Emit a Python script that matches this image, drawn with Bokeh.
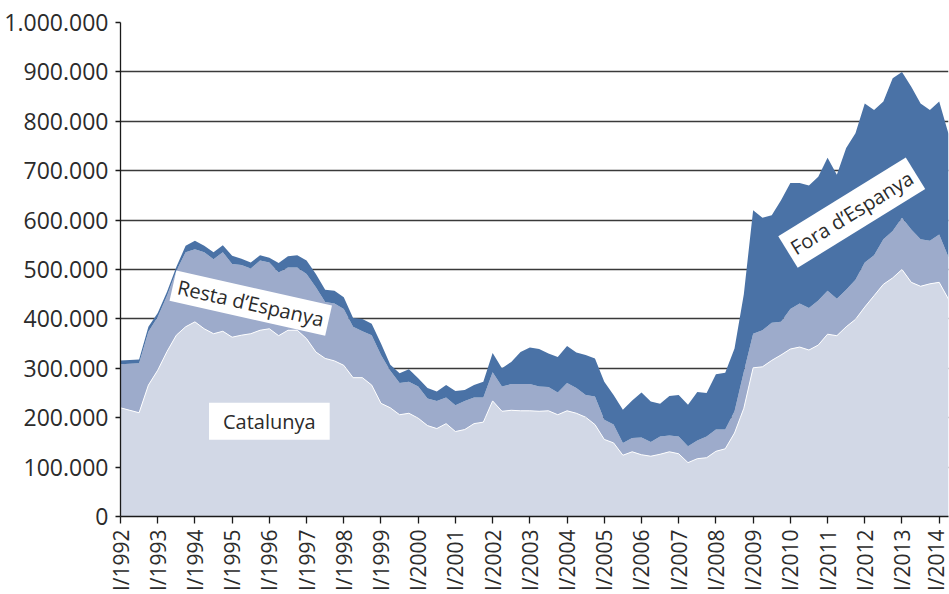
import math
from bokeh.plotting import figure
from bokeh.models import Range1d, FixedTicker, Label
from bokeh.models import ColumnDataSource
from bokeh.embed import file_html
from bokeh.resources import INLINE

# Quarterly series, I/1992 .. II/2014 (thousands of people)
catalunya = [220, 215, 210, 266, 296, 334, 367, 384, 394, 380,
             370, 375, 363, 367, 370, 377, 380, 366, 377, 377,
             360, 333, 320, 315, 306, 281, 281, 266, 229, 220,
             206, 209, 199, 184, 178, 188, 172, 176, 188, 191,
             234, 213, 215, 214, 214, 213, 214, 206, 214, 209,
             201, 186, 156, 149, 124, 131, 125, 122, 126, 131,
             127, 109, 117, 119, 132, 137, 169, 219, 301, 303,
             316, 327, 339, 343, 337, 347, 369, 366, 384, 399,
             424, 447, 470, 483, 500, 474, 466, 471, 474, 440]
resta = [88, 94, 100, 108, 108, 113, 130, 151, 147, 155,
         151, 160, 148, 142, 132, 141, 134, 128, 127, 127,
         131, 131, 114, 116, 114, 103, 94, 101, 98, 75,
         64, 64, 64, 55, 56, 53, 53, 58, 53, 50,
         58, 50, 53, 54, 54, 50, 48, 45, 56, 51,
         45, 57, 40, 37, 25, 28, 35, 29, 36, 33,
         35, 33, 37, 43, 44, 39, 44, 74, 69, 74,
         76, 67, 81, 88, 85, 90, 88, 75, 75, 80,
         90, 82, 91, 95, 105, 107, 95, 87, 97, 85]
fora = [8, 8, 8, 10, 8, 8, 8, 13, 17, 13,
        14, 14, 17, 13, 12, 11, 10, 19, 23, 25,
        27, 27, 25, 26, 24, 18, 25, 23, 23, 12,
        20, 25, 17, 21, 19, 25, 29, 22, 25, 32,
        39, 37, 45, 65, 74, 76, 68, 72, 75, 72,
        81, 77, 77, 60, 67, 76, 91, 82, 66, 80,
        84, 84, 98, 88, 112, 115, 127, 157, 250, 228,
        218, 246, 255, 244, 248, 251, 269, 251, 287, 297,
        322, 294, 279, 309, 295, 289, 275, 265, 269, 250]

years = list(range(1992, 2015))
year_labels = ["I/%d" % y for y in years]
y_ticks = [0, 100000, 200000, 300000, 400000, 500000, 600000, 700000, 800000, 900000, 1000000]
y_tick_labels = ["0", "100.000", "200.000", "300.000", "400.000", "500.000",
                 "600.000", "700.000", "800.000", "900.000", "1.000.000"]

n = len(catalunya)
x = list(range(n))
src = ColumnDataSource(dict(
    x=x,
    catalunya=[v * 1000 for v in catalunya],
    resta=[v * 1000 for v in resta],
    fora=[v * 1000 for v in fora],
))

FONT = "Open Sans"
TXT = "#2b2b2b"

p = figure(width=949, height=594, output_backend="svg", toolbar_location=None,
           x_range=Range1d(0, n - 1), y_range=Range1d(0, 1000000),
           min_border_top=22, min_border_right=1, min_border_left=120,
           min_border_bottom=70)
p.outline_line_color = None
p.background_fill_color = "white"

p.varea_stack(stackers=["catalunya", "resta", "fora"], x="x",
              color=["#D2D8E6", "#9DABCB", "#4A72A6"], source=src)
p.line(x="x", y="catalunya", source=src, line_color="white", line_width=1)

# grid
p.xgrid.visible = False
p.ygrid.grid_line_color = "#3a3a3a"
p.ygrid.grid_line_width = 1.3
p.ygrid.ticker = FixedTicker(ticks=y_ticks)

# y axis
p.yaxis.ticker = FixedTicker(ticks=y_ticks)
p.yaxis.major_label_overrides = {t: l for t, l in zip(y_ticks, y_tick_labels)}
p.yaxis.minor_tick_line_color = None
p.yaxis.major_tick_in = 0
p.yaxis.major_tick_out = 5
p.yaxis.major_label_standoff = 7
p.yaxis.axis_line_color = "#1a1a1a"
p.yaxis.axis_line_width = 1.3
p.yaxis.major_tick_line_color = "#1a1a1a"
p.yaxis.major_tick_line_width = 1.3
p.yaxis.major_label_text_font = FONT
p.yaxis.major_label_text_font_size = "23px"
p.yaxis.major_label_text_color = TXT

# x axis
xt = [4 * i for i in range(len(years))]
p.xaxis.ticker = FixedTicker(ticks=xt)
p.xaxis.major_label_overrides = {t: l for t, l in zip(xt, year_labels)}
p.xaxis.major_label_orientation = math.pi / 2
p.xaxis.major_label_text_font = FONT
p.xaxis.major_label_text_font_size = "21px"
p.xaxis.major_label_text_color = TXT
p.xaxis.major_label_standoff = 6
p.xaxis.minor_tick_line_color = None
p.xaxis.major_tick_in = 0
p.xaxis.major_tick_out = 7
p.xaxis.axis_line_color = "#1a1a1a"
p.xaxis.axis_line_width = 1.3
p.xaxis.major_tick_line_color = "#1a1a1a"
p.xaxis.major_tick_line_width = 1.3

def box_label(xv, yv, text, angle, pad):
    lab = Label(x=xv, y=yv, text=text, angle=angle, text_align="center",
                text_baseline="middle", text_font=FONT, text_font_size="20px",
                text_color=TXT, background_fill_color="white", padding=pad)
    p.add_layout(lab)

box_label(16.0, 193000, "Catalunya", 0, (14, 5))
box_label(14.0, 432000, "Resta d\u2019Espanya", -0.222, (5, 2))
box_label(78.6, 615000, "Fora d\u2019Espanya", 0.553, (5, 5))

open("out.html", "w").write(file_html(p, INLINE))
